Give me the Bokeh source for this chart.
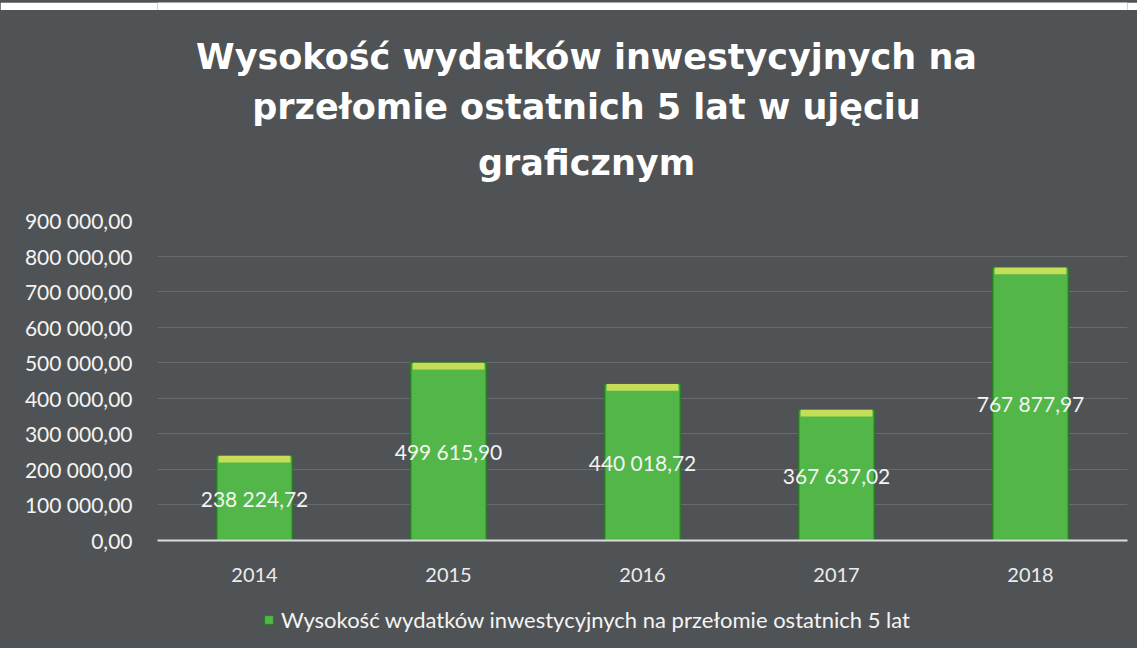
from bokeh.plotting import figure
from bokeh.layouts import column
from bokeh.models import (ColumnDataSource, Range1d, FixedTicker, Legend, LegendItem, Label)
from bokeh.core.properties import value
from bokeh.embed import file_html
from bokeh.resources import INLINE

# ---- data ----
years = ["2014", "2015", "2016", "2017", "2018"]
expenses = [238224.72, 499615.90, 440018.72, 367637.02, 767877.97]
y_ticks = [0, 100000, 200000, 300000, 400000, 500000, 600000, 700000, 800000, 900000]
title_lines = ["Wysokość wydatków inwestycyjnych na",
               "przełomie ostatnich 5 lat w ujęciu",
               "graficznym"]
series_name = "Wysokość wydatków inwestycyjnych na przełomie ostatnich 5 lat"


def pl_fmt(v):
    return f"{v:,.2f}".replace(",", " ").replace(".", ",")


BG = "#505355"
TXT_FONT = "Lato"
BAR_FILL = "#52b648"
BAR_LINE = "#2c7a2a"
W = 1137
ML, MR = 157, 10   # left / right borders (frame spans 157..1127)


def blank_fig(h, fill=None, **kw):
    f = figure(width=W, height=h, output_backend="svg", toolbar_location=None,
               min_border_left=ML, min_border_right=MR, min_border_top=0, min_border_bottom=0,
               x_axis_type=None, y_axis_type=None, **kw)
    f.title.visible = False
    f.background_fill_color = fill
    f.border_fill_color = fill
    f.outline_line_color = None
    f.xgrid.visible = False
    f.ygrid.visible = False
    return f


# ---- white strip at the top (scan margin) ----
sfig = blank_fig(10, fill="#ffffff", x_range=Range1d(ML, W - MR), y_range=Range1d(0, 10))

# ---- title block ----
TH = 196
tfig = blank_fig(TH, x_range=Range1d(ML, W - MR), y_range=Range1d(0, TH))
title_y = [150, 100, 44]
for line, ty in zip(title_lines, title_y):
    tfig.add_layout(Label(x=586, y=ty, text=line, text_align="center", text_baseline="alphabetic",
                          text_color="#ffffff", text_font="DejaVu Sans",
                          text_font_style="bold", text_font_size="35px"))

# ---- main chart ----
src = ColumnDataSource(dict(
    x=years,
    top=expenses,
    mid=[v / 2 for v in expenses],
    bevel=[v - 19000 for v in expenses],
    lbl=[pl_fmt(v) for v in expenses],
))

p = figure(width=W, height=394, x_range=years, y_range=Range1d(0, 900000),
           output_backend="svg", toolbar_location=None,
           min_border_left=ML, min_border_right=MR, min_border_top=14, min_border_bottom=60)
p.title.visible = False
p.background_fill_color = None
p.border_fill_color = None
p.outline_line_color = None

bars = p.vbar(x="x", top="top", width=0.39, source=src,
              fill_color=BAR_FILL, line_color=BAR_LINE, line_width=1.5)
p.vbar(x="x", top="top", bottom="bevel", width=0.37, source=src,
       fill_color="#c6dd58", line_color=None)

p.text(x="x", y="mid", text="lbl", source=src, text_align="center", text_baseline="middle",
       text_color="#f4f4f4", text_font=value(TXT_FONT), text_font_size="21px")

p.yaxis.ticker = FixedTicker(ticks=y_ticks)
p.yaxis.major_label_overrides = {t: pl_fmt(t) for t in y_ticks}
p.yaxis.axis_line_color = None
p.yaxis.major_tick_line_color = None
p.yaxis.minor_tick_line_color = None
p.yaxis.major_label_standoff = 19
p.yaxis.major_label_text_color = "#f4f4f4"
p.yaxis.major_label_text_font = TXT_FONT
p.yaxis.major_label_text_font_size = "21px"

p.xaxis.axis_line_color = "#dcdcdc"
p.xaxis.axis_line_width = 2
p.xaxis.major_tick_line_color = None
p.xaxis.minor_tick_line_color = None
p.xaxis.major_label_standoff = 21
p.xaxis.major_label_text_color = "#ececec"
p.xaxis.major_label_text_font = TXT_FONT
p.xaxis.major_label_text_font_size = "20px"

p.xgrid.grid_line_color = None
p.ygrid.grid_line_color = "#686b6d"
p.ygrid.grid_line_width = 1

# ---- legend block (same bars, kept far out of view; only the legend shows) ----
LH = 48
lfig = blank_fig(LH, x_range=years, y_range=Range1d(1e9, 2e9))
lbars = lfig.vbar(x="x", top="top", width=0.39, source=src,
                  fill_color=BAR_FILL, line_color=BAR_LINE, line_width=1)
legend = Legend(items=[LegendItem(label=series_name, renderers=[lbars])],
                location=(106, 15), orientation="horizontal",
                border_line_color=None, background_fill_alpha=0,
                label_text_color="#f4f4f4", label_text_font=TXT_FONT,
                label_text_font_size="22px", glyph_width=11, glyph_height=11,
                label_height=22, margin=0, padding=0, label_standoff=7)
lfig.add_layout(legend, "center")

layout = column(sfig, tfig, p, lfig, spacing=0, styles={"background-color": BG})
open("out.html", "w").write(file_html(layout, INLINE))
